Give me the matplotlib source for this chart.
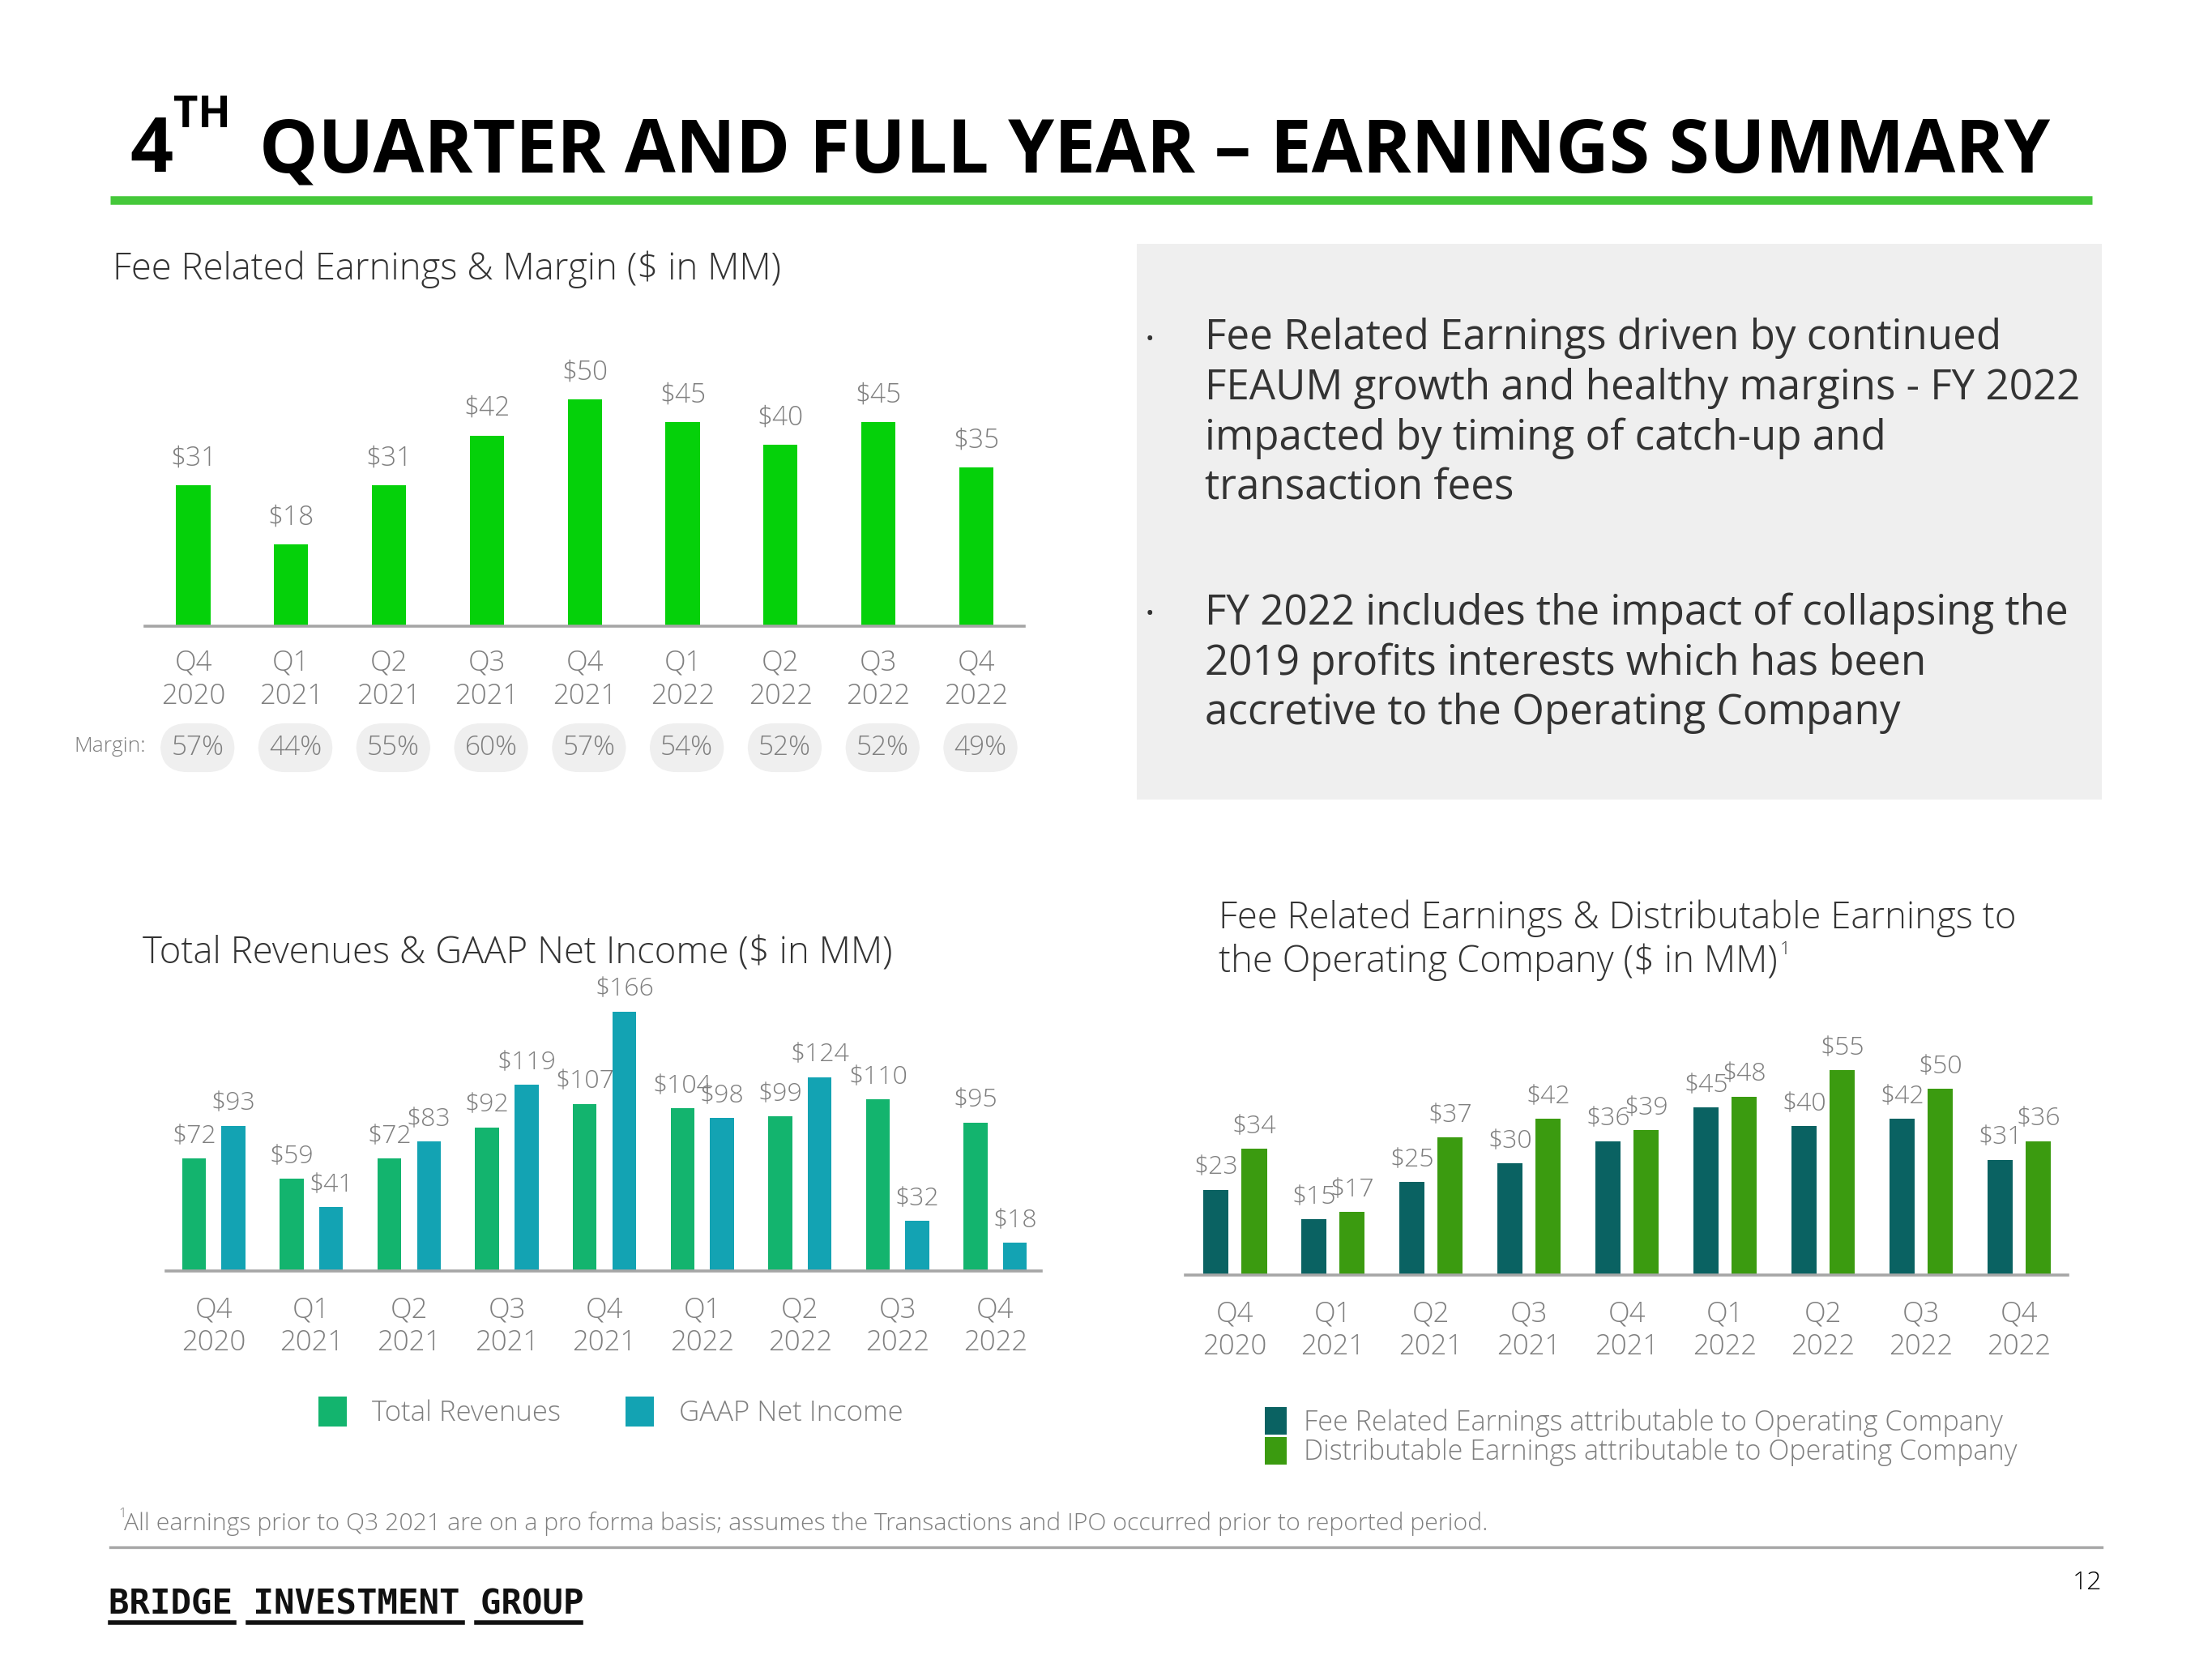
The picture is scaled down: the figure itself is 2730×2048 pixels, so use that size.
import matplotlib
matplotlib.use('Agg')
import matplotlib.pyplot as plt
from matplotlib.patches import Rectangle
from matplotlib.lines import Line2D

plt.rcParams['font.family'] = ['Open Sans', 'DejaVu Sans']

# ---------------- data ----------------
quarters = ["Q4\n2020", "Q1\n2021", "Q2\n2021", "Q3\n2021", "Q4\n2021",
            "Q1\n2022", "Q2\n2022", "Q3\n2022", "Q4\n2022"]
fre = [31, 18, 31, 42, 50, 45, 40, 45, 35]
margins = ["57%", "44%", "55%", "60%", "57%", "54%", "52%", "52%", "49%"]
revenues = [72, 59, 72, 92, 107, 104, 99, 110, 95]
net_income = [93, 41, 83, 119, 166, 98, 124, 32, 18]
fre_opco = [23, 15, 25, 30, 36, 45, 40, 42, 31]
de_opco = [34, 17, 37, 42, 39, 48, 55, 50, 36]

bullet1 = ["Fee Related Earnings driven by continued",
           "FEAUM growth and healthy margins - FY 2022",
           "impacted by timing of catch-up and",
           "transaction fees"]
bullet2 = ["FY 2022 includes the impact of collapsing the",
           "2019 profits interests which has been",
           "accretive to the Operating Company"]

# ---------------- colours ----------------
C_TITLE_LINE = '#45C83A'
C_FRE = '#05D10A'
C_REV = '#13B46E'
C_NI = '#13A3B3'
C_FRE_OP = '#0A6262'
C_DE_OP = '#3B9B10'
C_LABEL = '#7F7F7F'
C_AXIS = '#A6A6A6'
C_TEXT = '#333333'

W, H = 1568.0, 1176.0
def fx(x):
    return x / W
def fy(y):
    return 1 - y / H

fig = plt.figure(figsize=(13.65, 10.24), dpi=200)
fig.patch.set_facecolor('white')

# ---------------- header ----------------
fig.text(fx(92), fy(122), "4", fontsize=33.5, weight='bold', color='black', va='baseline')
fig.text(fx(123), fy(90), "TH", fontsize=19, weight='bold', color='black', va='baseline')
fig.text(fx(184), fy(122), "QUARTER AND FULL YEAR \u2013 EARNINGS SUMMARY", fontsize=32.8,
         weight='bold', color='black', va='baseline')
fig.add_artist(Line2D([fx(78), fx(1483)], [fy(142), fy(142)], lw=3.8, color=C_TITLE_LINE,
                      solid_capstyle='butt'))

# ---------------- grey box with bullets ----------------
fig.add_artist(Rectangle((fx(806), fy(567)), fx(1490) - fx(806), (567 - 173) / H,
                         transform=fig.transFigure, fc='#EFEFEF', ec='none', zorder=0))
for lines, y0 in [(bullet1, 240), (bullet2, 435)]:
    fig.text(fx(815), fy(y0 + 1), "\u2022", fontsize=10, color=C_TEXT, va='center', ha='center')
    for k, ln in enumerate(lines):
        fig.text(fx(854), fy(y0 + k * 35.3), ln, fontsize=18.4, color=C_TEXT, va='center',
                 ha='left')


def style_axis(ax, pad=9):
    for s in ['top', 'right', 'left']:
        ax.spines[s].set_visible(False)
    ax.spines['bottom'].set_color(C_AXIS)
    ax.spines['bottom'].set_linewidth(1.3)
    ax.set_yticks([])
    ax.tick_params(axis='x', length=0, pad=pad, labelsize=12.5, labelcolor=C_LABEL)
    ax.patch.set_alpha(0)


def make_axes(x0, x1, ybase, ytop):
    return fig.add_axes([fx(x0), fy(ybase), fx(x1) - fx(x0), (ybase - ytop) / H])

# ---------------- chart 1: Fee Related Earnings & Margin ----------------
fig.text(fx(80), fy(191), "Fee Related Earnings & Margin ($ in MM)", fontsize=16.4,
         color=C_TEXT, va='center', weight='light')
ax1 = make_axes(103, 726, 444, 444 - 55 * 3.22)
x = list(range(len(quarters)))
ax1.bar(x, fre, width=0.35, color=C_FRE)
for xi, v in zip(x, fre):
    ax1.annotate(f"${v}", (xi, v), xytext=(0, 6), textcoords='offset points', ha='center',
                 va='bottom', fontsize=12, color=C_LABEL, weight='light')
ax1.set_xlim(-0.49, 8.49)
ax1.set_ylim(0, 55)
ax1.set_xticks(x)
ax1.set_xticklabels(quarters, linespacing=1.25, fontweight='light')
style_axis(ax1, pad=10)

fig.text(fx(78), fy(529), "Margin:", fontsize=9.5, color=C_LABEL, va='center', ha='center',
         weight='light')
for xi, m in zip(x, margins):
    xp = 137 + xi * 69.375
    fig.text(fx(xp + 3), fy(530), m, fontsize=12, color=C_LABEL, va='center', ha='center',
             weight='light',
             bbox=dict(boxstyle='round,pad=0.4,rounding_size=1.0', fc='#EFEFEF', ec='none'))

# ---------------- chart 2: Total Revenues & GAAP Net Income ----------------
fig.text(fx(101), fy(676), "Total Revenues & GAAP Net Income ($ in MM)", fontsize=16.4,
         color=C_TEXT, va='center', weight='light')
ax2 = make_axes(118, 738, 901, 901 - 185 * 1.108)
off2, w2 = 0.202, 0.245
xr = [xi - off2 for xi in x]
xn = [xi + off2 for xi in x]
b_rev = ax2.bar(xr, revenues, width=w2, color=C_REV, label='Total Revenues')
b_ni = ax2.bar(xn, net_income, width=w2, color=C_NI, label='GAAP Net Income')
for xs, vals in [(xr, revenues), (xn, net_income)]:
    for xi, v in zip(xs, vals):
        ax2.annotate(f"${v}", (xi, v), xytext=(0, 4), textcoords='offset points', ha='center',
                     va='bottom', fontsize=11.5, color=C_LABEL, weight='light')
ax2.set_xlim(-0.484, 8.469)
ax2.set_ylim(0, 185)
ax2.set_xticks(x)
ax2.set_xticklabels(quarters, linespacing=1.25, fontweight='light')
style_axis(ax2, pad=11)
ax2.legend(handles=[b_rev, b_ni], loc='center', bbox_to_anchor=(fx(433), fy(1001)),
           bbox_transform=fig.transFigure, ncol=2, frameon=False, handlelength=1.0,
           handleheight=1.25, handletextpad=0.9, columnspacing=2.3,
           labelcolor=C_LABEL, prop={'weight': 'light', 'size': 12.5})

# ---------------- chart 3: FRE & DE to Operating Company ----------------
fig.text(fx(864), fy(651), "Fee Related Earnings & Distributable Earnings to", fontsize=16.4,
         color=C_TEXT, va='center', weight='light')
fig.text(fx(864), fy(682), "the Operating Company ($ in MM)", fontsize=16.4,
         color=C_TEXT, va='center', weight='light')
fig.text(fx(1262), fy(673), "1", fontsize=8, color=C_TEXT, va='center', weight='light')
ax3 = make_axes(840, 1466, 904, 904 - 65 * 2.64)
off3, w3 = 0.195, 0.26
xf = [xi - off3 for xi in x]
xd = [xi + off3 for xi in x]
b_f = ax3.bar(xf, fre_opco, width=w3, color=C_FRE_OP,
              label='Fee Related Earnings attributable to Operating Company')
b_d = ax3.bar(xd, de_opco, width=w3, color=C_DE_OP,
              label='Distributable Earnings attributable to Operating Company')
for xs, vals in [(xf, fre_opco), (xd, de_opco)]:
    for xi, v in zip(xs, vals):
        ax3.annotate(f"${v}", (xi, v), xytext=(0, 4), textcoords='offset points', ha='center',
                     va='bottom', fontsize=11.5, color=C_LABEL, weight='light')
ax3.set_xlim(-0.51, 8.50)
ax3.set_ylim(0, 65)
ax3.set_xticks(x)
ax3.set_xticklabels(quarters, linespacing=1.25, fontweight='light')
style_axis(ax3, pad=11)
ax3.legend(handles=[b_f, b_d], loc='upper left', bbox_to_anchor=(fx(879), fy(980)),
           bbox_transform=fig.transFigure, ncol=1, frameon=False, handlelength=0.8,
           handleheight=1.15, handletextpad=0.6, labelspacing=0.0,
           labelcolor=C_LABEL, prop={'weight': 'light', 'size': 12.3})

# ---------------- footer ----------------
fig.text(fx(84), fy(1073), "1", fontsize=6, color=C_LABEL, va='center', weight='light')
fig.text(fx(88), fy(1080), "All earnings prior to Q3 2021 are on a pro forma basis; assumes the "
         "Transactions and IPO occurred prior to reported period.", fontsize=10.9,
         color=C_LABEL, va='center', weight='light')
fig.add_artist(Line2D([fx(78), fx(1490)], [fy(1097), fy(1097)], lw=1.2, color=C_AXIS))
fig.text(fx(1490), fy(1122), "12", fontsize=11.5, color='black', va='center', ha='right',
         weight='light')
fig.text(fx(77), fy(1137), "BRIDGE INVESTMENT GROUP", fontsize=15.2, color='#111111',
         va='center', ha='left', family='DejaVu Sans Mono', weight='bold')
for a, b in [(78, 166), (176, 328), (338, 412)]:
    fig.add_artist(Line2D([fx(a), fx(b)], [fy(1150), fy(1150)], lw=2.0, color='#111111'))

fig.savefig('out.png', dpi=200, facecolor='white')
